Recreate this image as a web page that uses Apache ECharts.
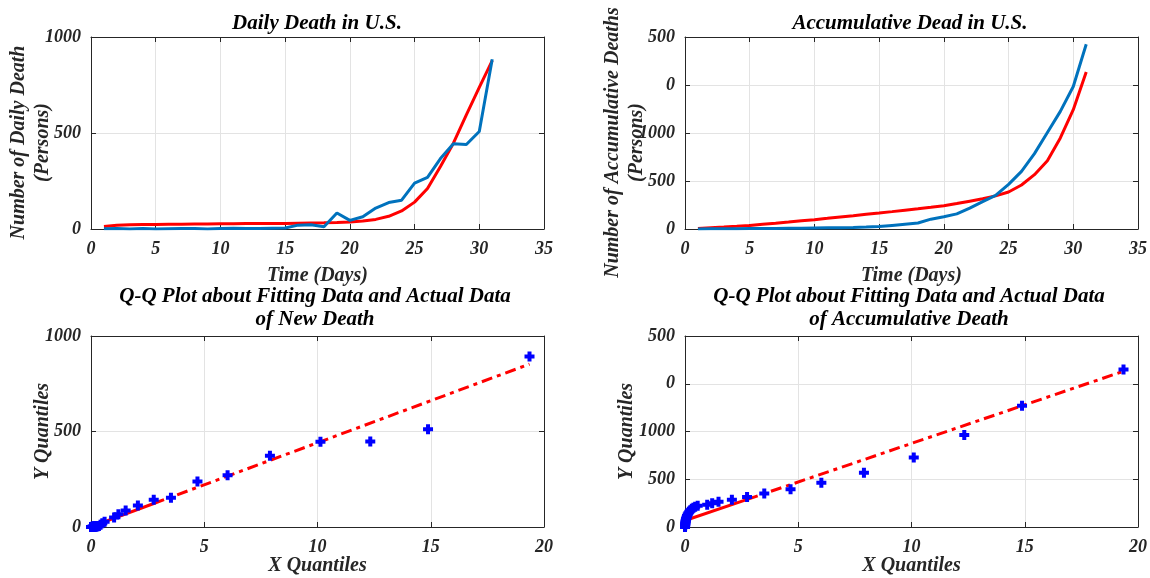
<!DOCTYPE html>
<html>
<head>
<meta charset="utf-8">
<script src="https://cdn.jsdelivr.net/npm/echarts@6/dist/echarts.min.js"></script>
<style>
  html, body { margin: 0; padding: 0; background: #ffffff; }
  #chart { width: 1150px; height: 578px; }
</style>
</head>
<body>
<div id="chart"></div>
<script>
// ---- data ----
const days = [1, 2, 3, 4, 5, 6, 7, 8, 9, 10, 11, 12, 13, 14, 15, 16, 17, 18, 19, 20,
              21, 22, 23, 24, 25, 26, 27, 28, 29, 30, 31];

// daily deaths: reported vs fitted
const dailyActual = [1, 3, 0, 2, 0, 1, 2, 3, 0, 2, 4, 2, 3, 4, 5, 20, 22, 12, 83, 45,
                     64, 109, 138, 150, 239, 269, 367, 444, 440, 508, 884];
const dailyFit = [13, 19, 22, 23, 24, 25, 25, 26, 26, 27, 27, 28, 28, 29, 29, 30, 31, 32, 34, 37,
                  42, 50, 66, 94, 140, 211, 326, 447, 594, 738, 877];

// accumulative deaths: reported vs fitted
const cumActual = [1, 3, 4, 6, 8, 10, 12, 14, 16, 20, 24, 28, 33, 40, 50, 75, 100, 125, 205, 255,
                   315, 435, 570, 700, 930, 1200, 1570, 2010, 2450, 2970, 3850];
const cumFit = [10, 25, 40, 57, 75, 98, 121, 145, 170, 195, 222, 250, 277, 305, 333, 362, 392, 422, 453, 486,
                530, 580, 630, 690, 771, 917, 1132, 1424, 1896, 2486, 3271];

// Q-Q points, new death
const qqNewX = [0.00, 0.02, 0.04, 0.06, 0.08, 0.10, 0.12, 0.14, 0.16, 0.18, 0.20, 0.23, 0.26, 0.30, 0.35, 0.42,
                0.50, 0.60, 1.02, 1.21, 1.53, 2.07, 2.77, 3.53, 4.70, 6.03, 7.90, 10.13, 12.33, 14.88, 19.36];
const qqNewY = [0, 0, 0, 1, 1, 2, 2, 2, 2, 3, 3, 3, 4, 4, 5, 12,
                20, 28, 50, 67, 86, 113, 143, 153, 238, 271, 373, 446, 448, 512, 893];
// reference line: solid between quartiles, dash-dot extension
const qqNewRefX = [0.2, 2.77, 19.36];
const qqNewRefY = [10, 123, 853];

// Q-Q points, accumulative death
const qqCumX = [0.00, 0.005, 0.01, 0.015, 0.02, 0.03, 0.04, 0.05, 0.07, 0.09, 0.12, 0.15, 0.19, 0.24, 0.30, 0.37,
                0.45, 0.56, 0.98, 1.20, 1.48, 2.07, 2.74, 3.50, 4.66, 6.02, 7.90, 10.10, 12.33, 14.88, 19.36];
const qqCumY = [0, 25, 50, 75, 100, 125, 150, 175, 200, 230, 260, 290, 320, 350, 380, 405,
                425, 445, 465, 500, 530, 570, 630, 700, 790, 925, 1134, 1454, 1927, 2539, 3297];
const qqCumRefX = [0.1, 2.75, 19.36];
const qqCumRefY = [151, 579, 3262];

// tick labels
const dayTicks = ['0', '5', '10', '15', '20', '25', '30', '35'];
const dailyTicks = ['0', '500', '1000'];
const cumTicks = ['0', '500', '1000', '0', '500'];
const quantileTicks = ['0', '5', '10', '15', '20'];

// ---- styling ----
const FONT = '"Liberation Serif", "Times New Roman", serif';
const INK = '#262626';
const BLUE_LINE = '#0072BD';
const RED = '#FF0000';
const MARK_BLUE = '#0000FF';
const PLUS = 'path://M3,0H7V3H10V7H7V10H3V7H0V3H3Z';

const textBase = { fontFamily: FONT, fontStyle: 'italic', fontWeight: 'bold', color: INK };

function pairs(xs, ys) { return xs.map((x, i) => [x, ys[i]]); }

function mainX(grid, min, max, step, labels, name, gap) {
  return {
    type: 'value', gridIndex: grid, min: min, max: max, interval: step, position: 'bottom',
    axisLine: { show: true, onZero: false, lineStyle: { color: INK, width: 1 } },
    axisTick: { show: true, inside: true, length: 5, lineStyle: { color: INK } },
    axisLabel: Object.assign({ fontSize: 18, margin: 11,
      formatter: v => labels[Math.round((v - min) / step)] }, textBase),
    splitLine: { show: true, lineStyle: { color: '#e3e3e3', width: 1 } },
    name: name, nameLocation: 'middle', nameGap: gap, nameMoveOverlap: false,
    nameTextStyle: Object.assign({ fontSize: 20 }, textBase)
  };
}
function mirrorX(grid, min, max, step) {
  return {
    type: 'value', gridIndex: grid, min: min, max: max, interval: step, position: 'top',
    axisLine: { show: true, onZero: false, lineStyle: { color: INK, width: 1 } },
    axisTick: { show: true, inside: true, length: 5, lineStyle: { color: INK } },
    axisLabel: { show: false }, splitLine: { show: false }
  };
}
// shift: padding on the rotated name's far end nudges it down the axis
function mainY(grid, min, max, step, labels, name, gap, shift) {
  return {
    type: 'value', gridIndex: grid, min: min, max: max, interval: step, position: 'left',
    axisLine: { show: true, onZero: false, lineStyle: { color: INK, width: 1 } },
    axisTick: { show: true, inside: true, length: 5, lineStyle: { color: INK } },
    axisLabel: Object.assign({ fontSize: 18, margin: 10,
      formatter: v => labels[Math.round((v - min) / step)] }, textBase),
    splitLine: { show: true, lineStyle: { color: '#e3e3e3', width: 1 } },
    name: name, nameLocation: 'middle', nameGap: gap, nameRotate: 90, nameMoveOverlap: false,
    nameTextStyle: Object.assign({ fontSize: 20, lineHeight: 24, align: 'center',
      padding: [0, shift, 0, 0] }, textBase)
  };
}
function mirrorY(grid, min, max, step) {
  return {
    type: 'value', gridIndex: grid, min: min, max: max, interval: step, position: 'right',
    axisLine: { show: true, onZero: false, lineStyle: { color: INK, width: 1 } },
    axisTick: { show: true, inside: true, length: 5, lineStyle: { color: INK } },
    axisLabel: { show: false }, splitLine: { show: false }
  };
}

function titleText(x, y, text) {
  return {
    type: 'text', x: x, y: y, z: 10,
    style: { text: text, fill: '#000000', fontFamily: FONT, fontStyle: 'italic', fontWeight: 'bold',
             fontSize: 21, align: 'center', verticalAlign: 'middle' }
  };
}

const option = {
  animation: false,
  backgroundColor: '#ffffff',
  grid: [
    { left: 91, top: 37, width: 453, height: 192, containLabel: false, outerBoundsMode: 'none' },
    { left: 685, top: 37, width: 453, height: 192, containLabel: false, outerBoundsMode: 'none' },
    { left: 91, top: 336, width: 453, height: 191, containLabel: false, outerBoundsMode: 'none' },
    { left: 685, top: 336, width: 453, height: 191, containLabel: false, outerBoundsMode: 'none' }
  ],
  xAxis: [
    mainX(0, 0, 35, 5, dayTicks, 'Time (Days)', 37),
    mainX(1, 0, 35, 5, dayTicks, 'Time (Days)', 37),
    mainX(2, 0, 20, 5, quantileTicks, 'X Quantiles', 29),
    mainX(3, 0, 20, 5, quantileTicks, 'X Quantiles', 29),
    mirrorX(0, 0, 35, 5), mirrorX(1, 0, 35, 5), mirrorX(2, 0, 20, 5), mirrorX(3, 0, 20, 5)
  ],
  yAxis: [
    mainY(0, 0, 1000, 500, dailyTicks, 'Number of Daily Death\n(Persons)', 36, 19),
    mainY(1, 0, 4000, 1000, cumTicks, 'Number of Accumulative Deaths\n(Persons)', 36, 19),
    mainY(2, 0, 1000, 500, dailyTicks, 'Y Quantiles', 36, 0),
    mainY(3, 0, 4000, 1000, cumTicks, 'Y Quantiles', 46, 0),
    mirrorY(0, 0, 1000, 500), mirrorY(1, 0, 4000, 1000), mirrorY(2, 0, 1000, 500), mirrorY(3, 0, 4000, 1000)
  ],
  graphic: [
    titleText(317, 24, 'Daily Death in U.S.'),
    titleText(910, 24, 'Accumulative Dead in U.S.'),
    titleText(315, 297, 'Q-Q Plot about Fitting Data and Actual Data'),
    titleText(315, 320, 'of New Death'),
    titleText(909, 297, 'Q-Q Plot about Fitting Data and Actual Data'),
    titleText(909, 320, 'of Accumulative Death')
  ],
  series: [
    // daily deaths
    { type: 'line', xAxisIndex: 0, yAxisIndex: 0, data: pairs(days, dailyFit), symbol: 'none',
      lineStyle: { color: RED, width: 3 }, z: 2 },
    { type: 'line', xAxisIndex: 0, yAxisIndex: 0, data: pairs(days, dailyActual), symbol: 'none',
      lineStyle: { color: BLUE_LINE, width: 3 }, z: 3 },
    // accumulative deaths
    { type: 'line', xAxisIndex: 1, yAxisIndex: 1, data: pairs(days, cumFit), symbol: 'none',
      lineStyle: { color: RED, width: 3 }, z: 2 },
    { type: 'line', xAxisIndex: 1, yAxisIndex: 1, data: pairs(days, cumActual), symbol: 'none',
      lineStyle: { color: BLUE_LINE, width: 3 }, z: 3 },
    // Q-Q new death
    { type: 'line', xAxisIndex: 2, yAxisIndex: 2, data: pairs(qqNewRefX.slice(0, 2), qqNewRefY.slice(0, 2)),
      symbol: 'none', lineStyle: { color: RED, width: 3 }, z: 2 },
    { type: 'line', xAxisIndex: 2, yAxisIndex: 2, data: pairs(qqNewRefX.slice(1), qqNewRefY.slice(1)),
      symbol: 'none', lineStyle: { color: RED, width: 3, type: [11, 5, 4, 5] }, z: 2 },
    { type: 'scatter', xAxisIndex: 2, yAxisIndex: 2, data: pairs(qqNewX, qqNewY),
      symbol: PLUS, symbolSize: 10, itemStyle: { color: MARK_BLUE, opacity: 1 }, z: 4 },
    // Q-Q accumulative death
    { type: 'line', xAxisIndex: 3, yAxisIndex: 3, data: pairs(qqCumRefX.slice(0, 2), qqCumRefY.slice(0, 2)),
      symbol: 'none', lineStyle: { color: RED, width: 3 }, z: 2 },
    { type: 'line', xAxisIndex: 3, yAxisIndex: 3, data: pairs(qqCumRefX.slice(1), qqCumRefY.slice(1)),
      symbol: 'none', lineStyle: { color: RED, width: 3, type: [11, 5, 4, 5] }, z: 2 },
    { type: 'scatter', xAxisIndex: 3, yAxisIndex: 3, data: pairs(qqCumX, qqCumY),
      symbol: PLUS, symbolSize: 10, itemStyle: { color: MARK_BLUE, opacity: 1 }, z: 4 }
  ]
};

const chart = echarts.init(document.getElementById('chart'), null, { renderer: 'canvas' });
chart.setOption(option);
</script>
</body>
</html>
